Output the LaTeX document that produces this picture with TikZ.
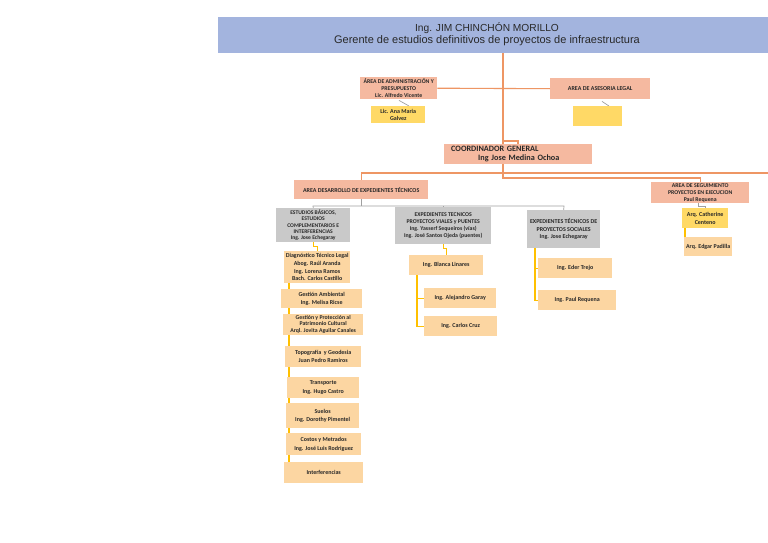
\documentclass[tikz,border=0pt]{standalone}
\usepackage{fontspec}
\setmainfont{Carlito}
\newfontfamily\titlefont{Liberation Sans}
\usetikzlibrary{backgrounds,calc}
\definecolor{titleblue}{RGB}{163,180,222}
\definecolor{salmonc}{RGB}{245,185,160}
\definecolor{yellowc}{RGB}{255,217,102}
\definecolor{peachc}{RGB}{252,214,162}
\definecolor{grayc}{RGB}{201,201,201}
\definecolor{orangeln}{RGB}{238,150,100}
\definecolor{yellowln}{RGB}{255,192,0}
\definecolor{grayln}{RGB}{160,160,160}
\definecolor{txtc}{RGB}{40,40,40}
\tikzset{
  base/.style={inner sep=0pt, anchor=north west, align=center, text=txtc,
    font=\fontsize{6}{7.5}\selectfont\bfseries},
  salmonbox/.style={base, fill=salmonc},
  yellowbox/.style={base, fill=yellowc},
  peachbox/.style={base, fill=peachc},
  graybox/.style={base, fill=grayc},
  oline/.style={draw=orangeln, line width=1.1pt},
  yline/.style={draw=yellowln, line width=1.1pt},
  gline/.style={draw=grayln, line width=0.7pt},
}
\newcommand{\bx}[7]{\node[#2, minimum width={(#5-#3)*1pt}, minimum height={(#6-#4)*1pt}] (#1) at (#3,#4) {#7};}
\begin{document}
\begin{tikzpicture}[x=1pt,y=-1pt]
\useasboundingbox (0,0) rectangle (768,543);
% title
\bx{title}{base, fill=titleblue}{218}{17}{768}{53}{}
\node[text=txtc, font=\titlefont\fontsize{10.2}{13}\selectfont] (titletext1) at (487,28) {Ing. JIM CHINCHÓN MORILLO};
\node[text=txtc, font=\titlefont\fontsize{11}{13}\selectfont] (titletext2) at (487,41) {Gerente de estudios definitivos de proyectos de infraestructura};
% first level
\bx{admin}{salmonbox, font=\fontsize{5.8}{7.3}\selectfont\bfseries}{360}{77}{437}{99}{ÁREA DE ADMINISTRACIÓN Y\\PRESUPUESTO\\Lic. Alfredo Vicente}
\bx{legal}{salmonbox}{550}{78}{650}{99}{AREA DE ASESORIA LEGAL}
\bx{ana}{yellowbox}{371}{106}{425}{123}{Lic. Ana Maria\\Galvez}
\bx{yel}{yellowbox}{573}{106}{622}{126}{}
\bx{coord}{salmonbox, font=\fontsize{8.2}{9.5}\selectfont\bfseries, align=left, text width=134pt, inner xsep=7pt}{444}{144}{592}{164}{COORDINADOR GENERAL\\\hspace*{27pt}Ing Jose Medina Ochoa}
\bx{desa}{salmonbox}{294}{180}{428}{199}{AREA DESARROLLO DE EXPEDIENTES TÉCNICOS}
\bx{seg}{salmonbox, font=\fontsize{5.8}{7}\selectfont\bfseries}{651}{182}{749}{203}{AREA DE SEGUIMIENTO\\PROYECTOS EN EJECUCION\\Paul Requena}
\bx{cath}{yellowbox}{682}{208}{728}{228}{Arq. Catherine\\Centeno}
\bx{edgar}{peachbox}{684}{237}{732}{256}{Arq. Edgar Padilla}
% second level
\bx{est}{graybox, font=\fontsize{5.6}{6.1}\selectfont\bfseries}{276}{208}{350}{242}{ESTUDIOS BÁSICOS,\\ESTUDIOS\\COMPLEMENTARIOS E\\INTERFERENCIAS\\Ing. Jose Echegaray}
\bx{vial}{graybox, font=\fontsize{5.8}{7.2}\selectfont\bfseries}{395}{207}{491}{244}{EXPEDIENTES TECNICOS\\PROYECTOS VIALES y PUENTES\\Ing. Yasserf Sequeiros (vías)\\Ing. José Santos Ojeda (puentes)}
\bx{soc}{graybox}{527}{210}{600}{248}{EXPEDIENTES TÉCNICOS DE\\PROYECTOS SOCIALES\\Ing. Jose Echegaray}
% left column
\bx{diag}{peachbox, font=\fontsize{6}{7.6}\selectfont\bfseries}{284}{251}{350}{283}{Diagnóstico Técnico Legal\\Abog. Raúl Aranda\\Ing. Lorena Ramos\\Bach. Carlos Castillo}
\bx{amb}{peachbox, font=\fontsize{6}{7.8}\selectfont\bfseries}{281}{289}{362}{308}{Gestión Ambiental\\Ing. Melisa Ricse}
\bx{pat}{peachbox, font=\fontsize{5.8}{5.8}\selectfont\bfseries}{283}{314}{363}{335}{Gestión y Protección al\\Patrimonio Cultural\\[1.8pt]Arql. Jovita Aguilar Canales}
\bx{topo}{peachbox, font=\fontsize{6}{8.4}\selectfont\bfseries}{285}{346}{361}{367}{Topografía~ y Geodesia\\Juan Pedro Ramiros}
\bx{trans}{peachbox, font=\fontsize{6}{8.4}\selectfont\bfseries}{287}{377}{359}{398}{Transporte\\Ing. Hugo Castro}
\bx{suelos}{peachbox, font=\fontsize{6}{8.4}\selectfont\bfseries}{286}{403}{359}{428}{Suelos\\Ing. Dorothy Pimentel}
\bx{costos}{peachbox, font=\fontsize{6}{8.4}\selectfont\bfseries}{286}{433}{361}{455}{Costos y Metrados\\Ing. José Luis Rodriguez}
\bx{interf}{peachbox}{284}{462}{363}{483}{Interferencias}
% middle column
\bx{blanca}{peachbox}{409}{255}{483}{275}{Ing. Blanca Linares}
\bx{alej}{peachbox}{424}{288}{496}{308}{Ing. Alejandro Garay}
\bx{cruz}{peachbox}{424}{316}{497}{336}{Ing. Carlos Cruz}
% right column
\bx{eder}{peachbox}{538}{258}{612}{278}{Ing. Eder Trejo}
\bx{paul}{peachbox}{538}{290}{616}{310}{Ing. Paul Requena}
% coordinates
\coordinate (tA) at (503,53);
\coordinate (tB) at (503,178);
\coordinate (cc) at (518,141);
\coordinate (busE) at (768,173);
\coordinate (busL) at (313,206);
\coordinate (busR) at (564,206);
\begin{pgfonlayer}{background}
  \fill[white] (0,0) rectangle (768,543);
  \draw[oline] (tA) -- (tB) -| (seg.north);
  \draw[oline] (cc -| tA) -- (cc) -- (cc |- coord.north);
  \draw[oline] (admin.east) -- (legal.west);
  \draw[oline] (desa.north) |- (busE);
  \draw[gline] ($(admin.south west)+(39,1)$) -- ($(ana.north west)+(38,0)$);
  \draw[gline] ($(legal.south west)+(52,2)$) -- ($(yel.north west)+(36,0)$);
  \draw[gline] (desa.south) -- (desa.south |- busL);
  \draw[gline] (est.north) -- (busL) -- (busR) -- (soc.north);
  \draw[gline] (vial.north) -- (vial.north |- busL);
  \draw[gline] ($(seg.south west)+(47,0)$) -- ++(0,3) -| (cath.north);
  \draw[yline] (cath.south west) ++(3,0) |- (edgar.west);
  \draw[yline] (est.south) -- ++(0,4) -| (diag.north);
  \draw[yline] ($(diag.south west)+(5,0)$) |- (interf.west);
  \draw[yline] (vial.south) -- ++(0,4) -| (blanca.north);
  \draw[yline] ($(blanca.south west)+(8,0)$) |- (alej.west);
  \draw[yline] ($(blanca.south west)+(8,0)$) |- (cruz.west);
  \draw[yline] ($(soc.south west)+(8,0)$) |- (eder.west);
  \draw[yline] ($(soc.south west)+(8,0)$) |- (paul.west);
\end{pgfonlayer}
\end{tikzpicture}
\end{document}
